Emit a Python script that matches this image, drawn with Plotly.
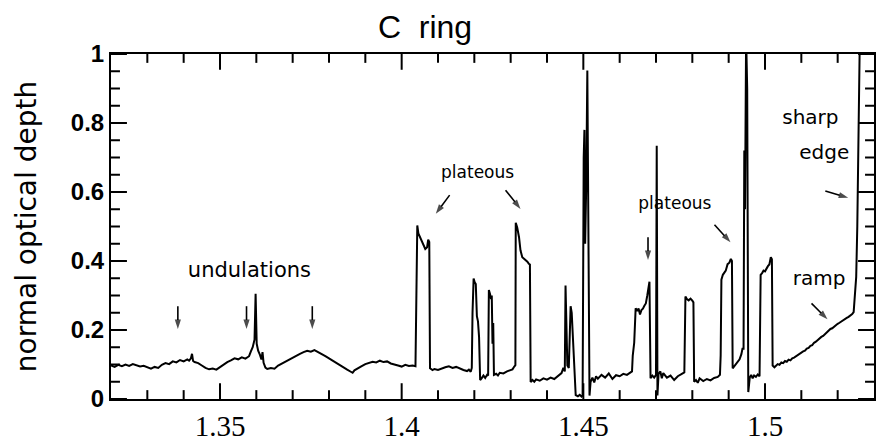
import plotly.graph_objects as go

radius = [
    1.3200, 1.3210, 1.3220, 1.3230, 1.3240, 1.3250, 1.3260, 1.3270, 1.3280, 1.3290,
    1.3300, 1.3310, 1.3320, 1.3330, 1.3340, 1.3350, 1.3360, 1.3370, 1.3380, 1.3390,
    1.3400, 1.3410, 1.3415, 1.3420, 1.3423, 1.3426, 1.3430, 1.3440, 1.3450, 1.3460,
    1.3470, 1.3480, 1.3490, 1.3500, 1.3510, 1.3520, 1.3530, 1.3540, 1.3550, 1.3560,
    1.3570, 1.3580, 1.3585, 1.3590, 1.3595, 1.3598, 1.3601, 1.3605, 1.3610, 1.3614,
    1.3617, 1.3620, 1.3625, 1.3630, 1.3640, 1.3650, 1.3660, 1.3670, 1.3680, 1.3690,
    1.3700, 1.3710, 1.3720, 1.3730, 1.3740, 1.3750, 1.3760, 1.3770, 1.3780, 1.3790,
    1.3800, 1.3810, 1.3820, 1.3830, 1.3840, 1.3850, 1.3860, 1.3865, 1.3870, 1.3880,
    1.3890, 1.3900, 1.3910, 1.3920, 1.3930, 1.3940, 1.3950, 1.3960, 1.3970, 1.3980,
    1.3990, 1.4000, 1.4010, 1.4020, 1.4030, 1.4038, 1.4040, 1.4043, 1.4046, 1.4050,
    1.4055, 1.4060, 1.4065, 1.4070, 1.4073, 1.4076, 1.4078, 1.4085, 1.4090, 1.4100,
    1.4110, 1.4120, 1.4130, 1.4140, 1.4150, 1.4160, 1.4170, 1.4180, 1.4185, 1.4190,
    1.4193, 1.4195, 1.4198, 1.4201, 1.4204, 1.4207, 1.4210, 1.4213, 1.4216, 1.4220,
    1.4225, 1.4230, 1.4235, 1.4238, 1.4240, 1.4243, 1.4246, 1.4248, 1.4250, 1.4252,
    1.4254, 1.4260, 1.4265, 1.4270, 1.4280, 1.4290, 1.4300, 1.4305, 1.4310, 1.4313,
    1.4314, 1.4318, 1.4323, 1.4327, 1.4332, 1.4337, 1.4341, 1.4346, 1.4350, 1.4353,
    1.4355, 1.4360, 1.4365, 1.4370, 1.4380, 1.4390, 1.4400, 1.4410, 1.4420, 1.4430,
    1.4440, 1.4445, 1.4449, 1.4451, 1.4454, 1.4456, 1.4460, 1.4463, 1.4465, 1.4468,
    1.4472, 1.4475, 1.4479, 1.4485, 1.4490, 1.4495, 1.4498, 1.4501, 1.4503, 1.4505,
    1.4508, 1.4511, 1.4514, 1.4517, 1.4520, 1.4525, 1.4530, 1.4535, 1.4540, 1.4550,
    1.4560, 1.4570, 1.4580, 1.4590, 1.4600, 1.4610, 1.4620, 1.4630, 1.4634, 1.4636,
    1.4640, 1.4644, 1.4648, 1.4652, 1.4656, 1.4660, 1.4664, 1.4668, 1.4672, 1.4676,
    1.4680, 1.4682, 1.4685, 1.4690, 1.4695, 1.4700, 1.4702, 1.4704, 1.4707, 1.4712,
    1.4716, 1.4720, 1.4730, 1.4740, 1.4750, 1.4760, 1.4770, 1.4778, 1.4781, 1.4785,
    1.4790, 1.4795, 1.4800, 1.4803, 1.4805, 1.4810, 1.4815, 1.4820, 1.4830, 1.4840,
    1.4850, 1.4860, 1.4870, 1.4876, 1.4878, 1.4880, 1.4884, 1.4888, 1.4892, 1.4897,
    1.4902, 1.4906, 1.4909, 1.4911, 1.4915, 1.4920, 1.4925, 1.4930, 1.4935, 1.4938,
    1.4941, 1.4943, 1.4945, 1.4948, 1.4951, 1.4954, 1.4958, 1.4962, 1.4966, 1.4970,
    1.4975, 1.4980, 1.4985, 1.4988, 1.4992, 1.4996, 1.5000, 1.5004, 1.5008, 1.5012,
    1.5016, 1.5019, 1.5021, 1.5026, 1.5030, 1.5035, 1.5040, 1.5045, 1.5050, 1.5055,
    1.5060, 1.5065, 1.5070, 1.5075, 1.5080, 1.5085, 1.5090, 1.5095, 1.5100, 1.5105,
    1.5110, 1.5115, 1.5120, 1.5125, 1.5130, 1.5135, 1.5140, 1.5145, 1.5150, 1.5155,
    1.5160, 1.5165, 1.5170, 1.5175, 1.5180, 1.5185, 1.5190, 1.5195, 1.5200, 1.5205,
    1.5210, 1.5215, 1.5220, 1.5225, 1.5230, 1.5235, 1.5240, 1.5244, 1.5248, 1.5251,
    1.5254, 1.5256, 1.5258, 1.5259, 1.5261,
]

optical_depth = [
    0.097, 0.093, 0.099, 0.095, 0.100, 0.096, 0.101, 0.097, 0.094, 0.096,
    0.091, 0.088, 0.093, 0.090, 0.099, 0.104, 0.101, 0.109, 0.106, 0.113,
    0.109, 0.115, 0.111, 0.118, 0.131, 0.110, 0.107, 0.104, 0.097, 0.090,
    0.086, 0.088, 0.085, 0.093, 0.099, 0.107, 0.112, 0.118, 0.115, 0.121,
    0.117, 0.124, 0.138, 0.150, 0.172, 0.305, 0.160, 0.140, 0.128, 0.115,
    0.136, 0.105, 0.091, 0.087, 0.090, 0.088, 0.097, 0.103, 0.109, 0.114,
    0.121, 0.126, 0.131, 0.136, 0.140, 0.137, 0.142, 0.136, 0.131, 0.124,
    0.118, 0.111, 0.105, 0.098, 0.092, 0.085, 0.079, 0.076, 0.083, 0.090,
    0.095, 0.101, 0.104, 0.108, 0.106, 0.111, 0.107, 0.109, 0.103, 0.101,
    0.097, 0.094, 0.099, 0.096, 0.097, 0.095, 0.300, 0.503, 0.480, 0.470,
    0.455, 0.442, 0.435, 0.440, 0.462, 0.455, 0.089, 0.084, 0.087, 0.084,
    0.089, 0.092, 0.095, 0.090, 0.093, 0.088, 0.084, 0.081, 0.085, 0.079,
    0.090, 0.250, 0.349, 0.338, 0.333, 0.240, 0.225, 0.180, 0.055, 0.060,
    0.068, 0.061, 0.070, 0.068, 0.316, 0.305, 0.290, 0.300, 0.160, 0.220,
    0.070, 0.073, 0.068, 0.076, 0.074, 0.080, 0.083, 0.086, 0.094, 0.098,
    0.511, 0.497, 0.469, 0.431, 0.411, 0.407, 0.402, 0.398, 0.392, 0.390,
    0.049, 0.055, 0.050, 0.057, 0.053, 0.060, 0.056, 0.062, 0.058, 0.066,
    0.075, 0.090, 0.080, 0.329, 0.200, 0.097, 0.090, 0.180, 0.269, 0.250,
    0.170, 0.090, 0.011, 0.008, 0.012, 0.007, 0.010, 0.700, 0.780, 0.450,
    0.620, 0.952, 0.400, 0.010, 0.050, 0.062, 0.048, 0.066, 0.059, 0.070,
    0.062, 0.074, 0.058, 0.069, 0.066, 0.073, 0.070, 0.076, 0.080, 0.126,
    0.163, 0.263, 0.255, 0.262, 0.245, 0.258, 0.262, 0.270, 0.277, 0.300,
    0.320, 0.340, 0.060, 0.068, 0.062, 0.070, 0.734, 0.010, 0.072, 0.080,
    0.060, 0.075, 0.062, 0.068, 0.055, 0.066, 0.072, 0.077, 0.297, 0.290,
    0.286, 0.291, 0.285, 0.280, 0.050, 0.055, 0.047, 0.060, 0.052, 0.058,
    0.054, 0.061, 0.064, 0.070, 0.126, 0.346, 0.360, 0.366, 0.372, 0.391,
    0.395, 0.406, 0.400, 0.089, 0.095, 0.100, 0.108, 0.115, 0.130, 0.146,
    0.146, 0.720, 0.550, 1.050, 0.900, 0.020, 0.062, 0.070, 0.060, 0.068,
    0.064, 0.071, 0.066, 0.360, 0.365, 0.372, 0.370, 0.380, 0.385, 0.390,
    0.411, 0.405, 0.097, 0.092, 0.096, 0.101, 0.099, 0.106, 0.104, 0.110,
    0.108, 0.114, 0.112, 0.118, 0.120, 0.124, 0.127, 0.130, 0.134, 0.138,
    0.140, 0.146, 0.148, 0.154, 0.156, 0.163, 0.166, 0.171, 0.175, 0.180,
    0.183, 0.188, 0.192, 0.196, 0.203, 0.205, 0.210, 0.213, 0.218, 0.221,
    0.225, 0.228, 0.231, 0.235, 0.238, 0.241, 0.246, 0.252, 0.300, 0.354,
    0.500, 0.660, 0.800, 0.890, 1.050,
]

x_tick_vals = [1.35, 1.4, 1.45, 1.5]
x_tick_text = ["1.35", "1.4", "1.45", "1.5"]
y_tick_vals = [0, 0.2, 0.4, 0.6, 0.8, 1]
x_minor_vals = [1.33, 1.34, 1.36, 1.37, 1.38, 1.39, 1.41, 1.42, 1.43,
                1.44, 1.46, 1.47, 1.48, 1.49, 1.51, 1.52]
y_minor_vals = [0.05, 0.1, 0.15, 0.25, 0.3, 0.35, 0.45, 0.5, 0.55, 0.65,
                0.7, 0.75, 0.85, 0.9, 0.95]
x_range = [1.32, 1.53]
y_range = [0, 1]

label_text = ["undulations", "plateous", "plateous", "sharp", "edge", "ramp"]
label_x = [1.3581, 1.4209, 1.4752, 1.5125, 1.5163, 1.5149]
label_y = [0.369, 0.654, 0.563, 0.811, 0.711, 0.346]
label_size = [21, 17, 17, 20, 20, 20]

# arrows: tail (radius, depth) -> head (radius, depth)
arrow_tail_x = [1.3384, 1.3573, 1.3754, 1.4132, 1.4286, 1.4678, 1.4861, 1.5166, 1.5128]
arrow_tail_y = [0.269, 0.269, 0.269, 0.591, 0.605, 0.469, 0.505, 0.603, 0.277]
arrow_head_x = [1.3384, 1.3573, 1.3754, 1.4094, 1.4327, 1.4678, 1.4905, 1.5229, 1.5172]
arrow_head_y = [0.203, 0.203, 0.203, 0.537, 0.551, 0.403, 0.454, 0.583, 0.231]

# tick mark lengths expressed as fractions of the axis spans (16 px / 9 px)
major_frac_x, minor_frac_x = 16 / 350, 9 / 350
major_frac_y, minor_frac_y = 16 / 766, 9 / 766

fig = go.Figure()
fig.add_trace(go.Scatter(
    x=radius, y=optical_depth, mode="lines",
    line=dict(color="black", width=2),
))

# inside tick marks on all four sides, built from the tick arrays
tx, ty = [], []
xspan = x_range[1] - x_range[0]
yspan = y_range[1] - y_range[0]
for vals, frac in ((x_tick_vals, major_frac_x), (x_minor_vals, minor_frac_x)):
    for v in vals:
        tx += [v, v, None, v, v, None]
        ty += [y_range[0], y_range[0] + frac * yspan, None,
               y_range[1], y_range[1] - frac * yspan, None]
for vals, frac in ((y_tick_vals, major_frac_y), (y_minor_vals, minor_frac_y)):
    for v in vals:
        tx += [x_range[0], x_range[0] + frac * xspan, None,
               x_range[1], x_range[1] - frac * xspan, None]
        ty += [v, v, None, v, v, None]
fig.add_trace(go.Scatter(x=tx, y=ty, mode="lines",
                         line=dict(color="black", width=2)))

for ax_, ay_, hx, hy in zip(arrow_tail_x, arrow_tail_y, arrow_head_x, arrow_head_y):
    fig.add_trace(go.Scatter(
        x=[ax_, hx], y=[ay_, hy], mode="lines+markers",
        line=dict(color="black", width=1.6),
        marker=dict(symbol=["circle", "arrow"], size=[0, 10], color="black",
                    angleref="previous", line=dict(width=0)),
    ))

fig.add_trace(go.Scatter(
    x=label_x, y=label_y, mode="text", text=label_text,
    textposition="middle center",
    textfont=dict(family="DejaVu Sans", size=label_size, color="black"),
))

fig.update_layout(
    width=877, height=443,
    margin=dict(l=111, r=1, t=54, b=39),
    paper_bgcolor="white", plot_bgcolor="white",
    showlegend=False,
    title=dict(
        text="C\u00a0\u00a0ring", x=425 / 877, xanchor="center",
        y=0.94, yanchor="middle",
        font=dict(family="Liberation Sans", size=32, color="black"),
    ),
    xaxis=dict(range=x_range, showline=True, linecolor="black", linewidth=2,
               mirror=True, ticks="", showgrid=False, zeroline=False,
               tickvals=x_tick_vals, ticktext=x_tick_text,
               tickfont=dict(family="Liberation Serif", size=29, color="black")),
    yaxis=dict(range=y_range, showline=True, linecolor="black", linewidth=2,
               mirror=True, ticks="", showgrid=False, zeroline=False,
               tickvals=y_tick_vals,
               tickfont=dict(family="Liberation Sans", size=24, color="black", weight="bold"),
               title=dict(text="normal optical depth", standoff=26,
                          font=dict(family="DejaVu Sans", size=28, color="black"))),
)

fig.write_html("out.html")
